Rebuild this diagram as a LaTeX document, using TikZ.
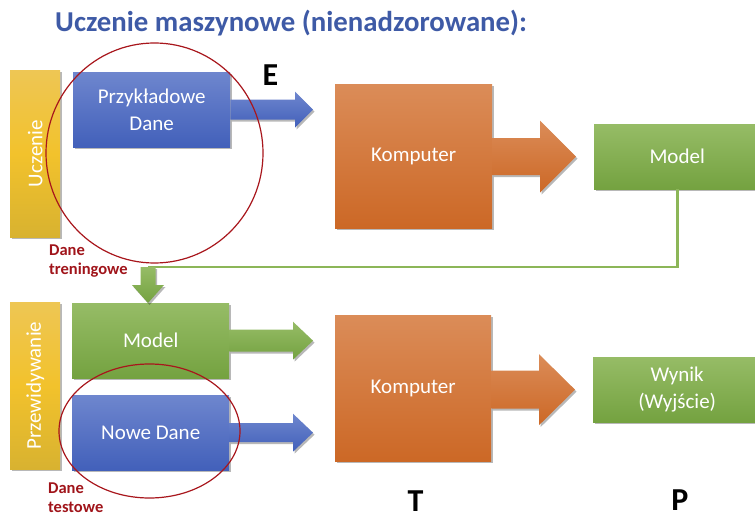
\documentclass[tikz,border=0pt]{standalone}
\usepackage{fontspec}
\setmainfont{Carlito}
\usetikzlibrary{calc,shadows}

\definecolor{titleblue}{RGB}{62,90,166}
\definecolor{blueA}{RGB}{110,134,206}
\definecolor{blueB}{RGB}{66,96,186}
\definecolor{orangeA}{RGB}{219,140,88}
\definecolor{orangeB}{RGB}{204,104,38}
\definecolor{greenA}{RGB}{150,188,102}
\definecolor{greenB}{RGB}{116,162,64}
\definecolor{yellowA}{RGB}{238,198,84}
\definecolor{yellowM}{RGB}{242,194,44}
\definecolor{yellowB}{RGB}{216,178,48}
\definecolor{darkred}{RGB}{160,20,26}
\definecolor{ringred}{RGB}{168,22,28}
\definecolor{linkgreen}{RGB}{140,182,88}

% horizontal block arrow: style, start, tip, shaft half-width, head half-width, head length
\newcommand{\hblockarrow}[6]{%
  \path[#1] ($(#2)+(0,-#4)$) -- ($(#3)+(-#6,-#4)$) -- ($(#3)+(-#6,-#5)$) -- (#3)
    -- ($(#3)+(-#6,#5)$) -- ($(#3)+(-#6,#4)$) -- ($(#2)+(0,#4)$) -- cycle;}
% vertical (downward) block arrow with the same arguments
\newcommand{\vblockarrow}[6]{%
  \path[#1] ($(#2)+(-#4,0)$) -- ($(#3)+(-#4,-#6)$) -- ($(#3)+(-#5,-#6)$) -- (#3)
    -- ($(#3)+(#5,-#6)$) -- ($(#3)+(#4,-#6)$) -- ($(#2)+(#4,0)$) -- cycle;}

\tikzset{
  softshadow/.style={drop shadow={shadow xshift=1.5pt, shadow yshift=-2pt, opacity=0.28, fill=black}},
  panel/.style={rectangle, anchor=north west, inner sep=0pt, text=white, align=center,
    font=\fontsize{21}{27}\selectfont, softshadow},
  bluepanel/.style={panel, top color=blueA, bottom color=blueB},
  orangepanel/.style={panel, top color=orangeA, bottom color=orangeB},
  greenpanel/.style={panel, top color=greenA, bottom color=greenB},
  phasebar/.style={rectangle, anchor=north west, inner sep=0pt, softshadow,
    top color=yellowA, bottom color=yellowB, middle color=yellowM},
  phaselabel/.style={rotate=90, text=white, font=\fontsize{21}{25}\selectfont},
  bluearrow/.style={top color=blueA, bottom color=blueB, softshadow},
  orangearrow/.style={top color=orangeA, bottom color=orangeB, softshadow},
  greenarrow/.style={top color=greenA, bottom color=greenB, softshadow},
  setlabel/.style={anchor=north west, inner sep=0pt, align=left, text=darkred,
    font=\fontsize{16.5}{19}\selectfont\bfseries},
  letter/.style={anchor=base, inner sep=0pt, font=\fontsize{32}{32}\selectfont\bfseries},
  ring/.style={draw=ringred, line width=1.2pt},
  link/.style={draw=linkgreen, line width=2.6pt},
}

\begin{document}
\begin{tikzpicture}[x=1pt,y=-1pt]
\useasboundingbox (0,0) rectangle (755,513);

% title
\node[anchor=base west, inner sep=0pt, text=titleblue, font=\fontsize{28.8}{29}\selectfont\bfseries]
  (title) at (55,32) {Uczenie maszynowe (nienadzorowane):};

% phase bars
\node[phasebar, minimum width=50pt, minimum height=167pt] (bar1) at (10,70) {};
\node[phaselabel] (bar1text) at (bar1.center) {Uczenie};
\node[phasebar, minimum width=50pt, minimum height=167pt] (bar2) at (10,302) {};
\node[phaselabel] (bar2text) at (bar2.center) {Przewidywanie};

% learning row
\node[bluepanel, minimum width=157pt, minimum height=75pt] (sample) at (73,72) {Przykładowe\\Dane};
\node[orangepanel, minimum width=157pt, minimum height=144pt] (comp1) at (335,84) {Komputer};
\node[greenpanel, minimum width=166pt, minimum height=65pt] (model1) at (594,124) {Model};

% prediction row
\node[greenpanel, minimum width=157pt, minimum height=75pt] (model2) at (72,303) {Model};
\node[bluepanel, minimum width=157pt, minimum height=75pt] (newdata) at (72,395) {Nowe Dane};
\node[orangepanel, minimum width=156pt, minimum height=146pt] (comp2) at (335,315) {Komputer};
\node[greenpanel, minimum width=168pt, minimum height=65pt] (result) at (593,357) {Wynik\\(Wyjście)};

% arrow end points
\coordinate (sampleTip) at (313,0 |- sample.east);
\coordinate (comp1Out) at (comp1.east |- model1.west);
\coordinate (comp1Tip) at (576,0 |- model1.west);
\coordinate (model2Tip) at (313,0 |- model2.east);
\coordinate (newTip) at (313,0 |- newdata.east);
\coordinate (comp2Out) at (comp2.east |- result.west);
\coordinate (comp2Tip) at (575,0 |- result.west);
\coordinate (feedStart) at (148,267);
\coordinate (feedTip) at (148,303);

% block arrows
\hblockarrow{bluearrow}{sample.east}{sampleTip}{10}{18}{18}
\hblockarrow{orangearrow}{comp1Out}{comp1Tip}{18.5}{36}{36}
\hblockarrow{greenarrow}{model2.east}{model2Tip}{11}{19}{20}
\hblockarrow{bluearrow}{newdata.east}{newTip}{9.5}{19}{20}
\hblockarrow{orangearrow}{comp2Out}{comp2Tip}{19}{35.5}{36}

% feedback from the trained model to the prediction row
\draw[link] (model1.south) |- (feedStart);
\vblockarrow{greenarrow}{feedStart}{feedTip}{7.5}{16}{18}

% data sets
\draw[ring] (154.5,153) ellipse [x radius=108.5, y radius=110];
\draw[ring] (149.5,431) ellipse [x radius=90.5, y radius=67];
\node[setlabel] (trainlabel) at (49,244.5) {Dane\\treningowe};
\node[setlabel] (testlabel) at (48,483) {Dane\\testowe};

% E, T, P
\node[letter] (E) at (270.5,86) {E};
\node[letter] (T) at (415.5,511) {T};
\node[letter] (P) at (680,510) {P};
\end{tikzpicture}
\end{document}
